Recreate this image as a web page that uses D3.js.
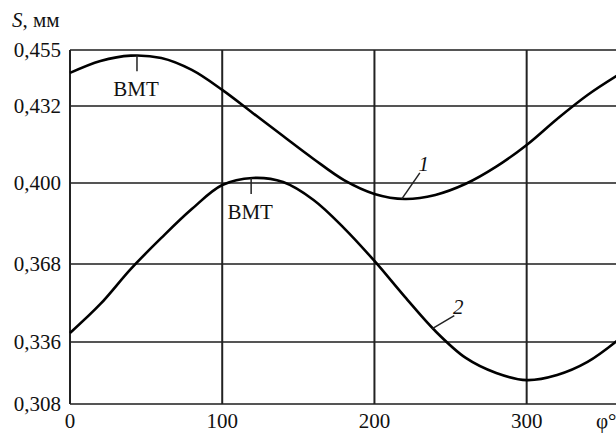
<!DOCTYPE html>
<meta charset="utf-8">
<script src="https://d3js.org/d3.v7.min.js"></script>
<style>
  body { margin: 0; background: #fff; }
  svg text { font-family: "Times New Roman", Times, "Liberation Serif", "DejaVu Serif", serif; fill: #111; font-size: 21px; }
</style>
<div id="chart"></div>
<script>
// crank angle, degrees
var phi = [0, 20, 40, 60, 80, 100, 120, 140, 160, 180, 200, 220, 240, 260, 280, 300, 320, 340, 360];
// curve 1 and curve 2, S in mm
var curve1 = [0.4456, 0.4505, 0.4527, 0.4517, 0.4468, 0.4386, 0.4291, 0.4195, 0.4100, 0.4012, 0.3957,
              0.3937, 0.3953, 0.3997, 0.4068, 0.4158, 0.4266, 0.4365, 0.4447];
var curve2 = [0.3397, 0.3516, 0.3660, 0.3783, 0.3897, 0.3992, 0.4021, 0.4004, 0.3933, 0.3822, 0.3692,
              0.3545, 0.3405, 0.3288, 0.3220, 0.3188, 0.3211, 0.3270, 0.3368];
var xTicks = [0, 100, 200, 300];
var yTicks = [0.308, 0.336, 0.368, 0.400, 0.432, 0.455];
var yTickLabels = ["0,308", "0,336", "0,368", "0,400", "0,432", "0,455"];
// BMT marks: [phi, value] top of the little tick
var bmt = [[44, 0.4528], [119, 0.4021]];

var width = 616, height = 433;
var mLeft = 70, mRight = 618, mTop = 50, mBottom = 404;

var svg = d3.select("#chart").append("svg")
    .attr("width", width)
    .attr("height", height);

var x = d3.scaleLinear().domain([0, 360]).range([mLeft, mRight]);
// the printed grid is not quite evenly spaced, so map each tick to its own row
var y = d3.scaleLinear()
    .domain(yTicks)
    .range([mBottom, 342, 264, 183, 106, mTop]);

// horizontal grid
svg.append("g").selectAll("line")
  .data(yTicks)
  .join("line")
    .attr("x1", mLeft).attr("x2", width)
    .attr("y1", function(d) { return y(d); })
    .attr("y2", function(d) { return y(d); })
    .attr("stroke", "#555")
    .attr("stroke-width", 2);

// vertical grid + axis
svg.append("g").selectAll("line")
  .data(xTicks)
  .join("line")
    .attr("x1", function(d) { return x(d); })
    .attr("x2", function(d) { return x(d); })
    .attr("y1", mTop).attr("y2", mBottom)
    .attr("stroke", "#222")
    .attr("stroke-width", 2);

// y labels
svg.append("g").selectAll("text")
  .data(yTicks)
  .join("text")
    .attr("x", mLeft - 9)
    .attr("y", function(d) { return y(d); })
    .attr("dy", "0.33em")
    .attr("text-anchor", "end")
    .text(function(d, i) { return yTickLabels[i]; });

// x labels
svg.append("g").selectAll("text")
  .data(xTicks)
  .join("text")
    .attr("x", function(d) { return x(d); })
    .attr("y", mBottom + 24)
    .attr("text-anchor", "middle")
    .text(function(d) { return d; });

svg.append("text")
    .attr("x", 596)
    .attr("y", mBottom + 24)
    .text("φ°");

var yl = svg.append("text")
    .attr("x", 12)
    .attr("y", 27);
yl.append("tspan").attr("font-style", "italic").text("S");
yl.append("tspan").text(", мм");

// curves
var line = d3.line()
    .x(function(d) { return x(d[0]); })
    .y(function(d) { return y(d[1]); })
    .curve(d3.curveCatmullRom.alpha(0.5));

[curve1, curve2].forEach(function(c) {
  svg.append("path")
    .datum(phi.map(function(p, i) { return [p, c[i]]; }))
    .attr("fill", "none")
    .attr("stroke", "#000")
    .attr("stroke-width", 2.6)
    .attr("d", line);
});

// BMT markers
bmt.forEach(function(b) {
  var bx = x(b[0]), by = y(b[1]);
  svg.append("line")
    .attr("x1", bx).attr("x2", bx)
    .attr("y1", by).attr("y2", by + 16)
    .attr("stroke", "#222").attr("stroke-width", 1.5);
  svg.append("text")
    .attr("x", bx - 1)
    .attr("y", by + 41)
    .attr("text-anchor", "middle")
    .text("BMT");
});

// curve numbers with leaders: [phi, value on curve, label, dx, dy]
var leaders = [[218, 0.3937, "1", 18, -26], [238, 0.3415, "2", 22, -13]];
leaders.forEach(function(l) {
  var lx = x(l[0]), ly = y(l[1]);
  svg.append("line")
    .attr("x1", lx).attr("x2", lx + l[3])
    .attr("y1", ly).attr("y2", ly + l[4])
    .attr("stroke", "#222").attr("stroke-width", 1.5);
  svg.append("text")
    .attr("font-style", "italic")
    .attr("x", lx + l[3] + 4)
    .attr("y", ly + l[4] - 2)
    .attr("text-anchor", "middle")
    .text(l[2]);
});
</script>
